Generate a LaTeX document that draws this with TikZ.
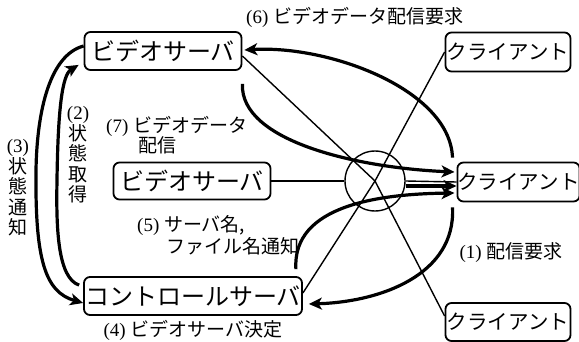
\documentclass[tikz,border=0pt]{standalone}
\usepackage{fontspec}
\setmainfont{Liberation Serif}
\newfontfamily\cjk{Noto Sans CJK JP}
\usetikzlibrary{arrows.meta}
\begin{document}
\begin{tikzpicture}[x=1pt,y=-1pt,
  srv/.style={draw,line width=1.8pt,rounded corners=6pt,inner sep=0pt,
    font=\cjk\fontsize{24}{26}\selectfont},
  cli/.style={draw,line width=1.8pt,rounded corners=6pt,inner sep=0pt,
    font=\cjk\fontsize{20.5}{22}\selectfont},
  thin/.style={line width=1.4pt},
  thick/.style={line width=3.2pt,-{Stealth[length=13pt,width=12pt,inset=3.5pt]}},
  lbl/.style={inner sep=0pt,font=\fontsize{19}{21}\selectfont},
  vlbl/.style={inner sep=0pt,align=center,font=\fontsize{19}{20.5}\selectfont}]
\useasboundingbox (0,0) rectangle (579,342);
% nodes
\node[srv,minimum width=157pt,minimum height=38pt] (vs1) at (163,51) {ビデオサーバ};
\node[srv,minimum width=157pt,minimum height=37pt] (vs2) at (192,181) {ビデオサーバ};
\node[srv,minimum width=218pt,minimum height=38pt] (cs) at (193,296) {コントロールサーバ};
\node[cli,minimum width=125pt,minimum height=39pt] (c1) at (508,52) {クライアント};
\node[cli,minimum width=119pt,minimum height=39pt] (c2) at (518.5,182) {クライアント};
\node[cli,minimum width=125pt,minimum height=38pt] (c3) at (508,322) {クライアント};
\node[draw,thin,circle,minimum size=60pt,inner sep=0pt] (hub) at (375,181) {};
% thin network lines
\draw[thin,line join=round] ([yshift=-5pt]vs1.east) -- (hub.center) -- ([yshift=6pt]c3.west);
\draw[thin,line join=round] ([yshift=3pt]cs.east) -- (hub.center) -- (c1.west);
\draw[thin] (vs2.east) -- (hub.west);
\draw[thin] (hub.east) -- (c2.west);
% thick message arrows
\draw[thick] ([yshift=-5pt]hub.east) -- ([yshift=-4pt]c2.west);
\draw[thick] ([xshift=-4pt,yshift=4pt]c2.north west)
  .. controls (450,90) and (330,45) .. ([xshift=2pt,yshift=1pt]vs1.east);
\draw[thick] ([yshift=-13pt]vs1.south east)
  .. controls (240,142) and (360,168) .. ([xshift=-2pt,yshift=10pt]c2.west);
\draw[thick] ([xshift=-7pt,yshift=7pt]cs.north east)
  .. controls (292,205) and (380,194) .. ([xshift=-2pt,yshift=-11pt]c2.west);
\draw[thick] ([xshift=-4pt,yshift=-5pt]c2.south west)
  .. controls (456,275) and (380,302) .. ([xshift=6pt,yshift=-8pt]cs.east);
\draw[thick] ([xshift=-4pt,yshift=-9pt]cs.north west)
  .. controls (58,278) and (56,230) .. (57,180)
  .. controls (58,110) and (62,75) .. ([xshift=-5pt,yshift=6pt]vs1.south west);
\draw[thick] ([yshift=5pt]vs1.west)
  .. controls (50,55) and (37,110) .. (36,170)
  .. controls (35,260) and (45,292) .. ([yshift=-7pt]cs.west);
% labels
\node[lbl,anchor=west] (l6) at (246,17) {(6)\ {\cjk ビデオデータ配信要求}};
\node[vlbl] (l2) at (78,155) {(2)\\{\cjk 状}\\{\cjk 態}\\{\cjk 取}\\{\cjk 得}};
\node[vlbl] (l3) at (18,188) {(3)\\{\cjk 状}\\{\cjk 態}\\{\cjk 通}\\{\cjk 知}};
\node[lbl,anchor=west] (l7a) at (106,126) {(7)\ {\cjk ビデオデータ}};
\node[lbl,anchor=west] (l7b) at (138,145) {\cjk 配信};
\node[lbl,anchor=west] (l5a) at (137,226) {(5)\ {\cjk サーバ名,}};
\node[lbl,anchor=west] (l5b) at (166,246) {\cjk ファイル名通知};
\node[lbl] (l4) at (193,330) {(4)\ {\cjk ビデオサーバ決定}};
\node[lbl] (l1) at (511,253) {(1)\ {\cjk 配信要求}};
\end{tikzpicture}
\end{document}
